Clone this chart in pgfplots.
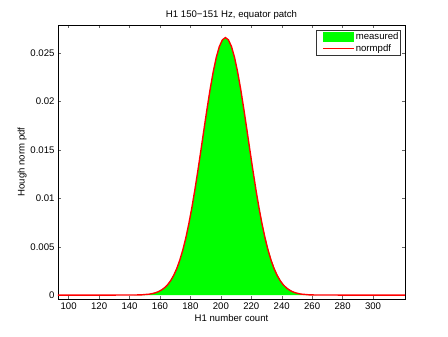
\documentclass[border=0pt]{standalone}
\usepackage{fontspec}
\setmainfont{Liberation Sans}
\usepackage{pgfplots}
\pgfplotsset{compat=1.18}
\begin{document}
\begin{tikzpicture}
\begin{axis}[
    scale only axis,
    width=347pt, height=274pt,
    xmin=93, xmax=321,
    ymin=-0.0004, ymax=0.0279,
    xtick={100,120,...,300},
    ytick={0,0.005,0.01,0.015,0.02,0.025},
    scaled y ticks=false,
    yticklabel style={/pgf/number format/fixed, /pgf/number format/precision=3},
    /pgf/number format/assume math mode=true,
    tick align=inside,
    major tick length=3pt,
    tick style={black!60, line width=0.4pt},
    axis line style={black, line width=0.5pt},
    font=\fontsize{9.6}{10}\selectfont,
    title={H1 150−151 Hz, equator patch},
    title style={yshift=-4pt},
    xlabel={H1 number count},
    ylabel={Hough norm pdf},
    xlabel style={yshift=2pt},
    ylabel style={yshift=-3pt},
    legend style={at={(0.9876,0.982)}, anchor=north east, draw=black!80,
        font=\fontsize{9.6}{10}\selectfont, inner xsep=1pt, inner ysep=1.5pt, row sep=1.5pt,
        nodes={inner sep=1pt}},
    legend cell align=left,
]
\addplot[fill=green, draw=none,
    legend image code/.code={\path (0pt,0pt); \fill[green] (5pt,-5.3pt) rectangle (36pt,5.3pt);}] coordinates {
(143,0) (148,0.00003) (153,0.00010) (155,0.00016) (157,0.00024) (159,0.00036)
(161,0.00053) (163,0.00076) (165,0.00107) (167,0.00149) (169,0.00204)
(171,0.00273) (173,0.00360) (175,0.00466) (177,0.00592) (179,0.00740)
(181,0.00907) (183,0.01094) (185,0.01295) (187,0.01506) (189,0.01721)
(191,0.01931) (193,0.02130) (195,0.02307) (197,0.02455) (199,0.02567)
(201,0.02636) (203,0.02660) (205,0.02636) (207,0.02567) (209,0.02455)
(211,0.02307) (213,0.02130) (215,0.01931) (217,0.01721) (219,0.01506)
(221,0.01295) (223,0.01094) (225,0.00917) (227,0.00755) (229,0.00610)
(231,0.00484) (233,0.00376) (235,0.00286) (237,0.00214) (239,0.00157)
(241,0.00113) (243,0.00080) (245,0.00056) (247,0.00038) (249,0.00025)
(251,0.00016) (253,0.00010) (258,0.00003) (263,0)
} \closedcycle;
\addlegendentry{measured}
\addplot[red, line width=1.4pt,
    legend image code/.code={\path (0pt,0pt); \draw[red, line width=1pt] (5pt,0pt) -- (36pt,0pt);}] coordinates {
(93,0) (143,0.00001) (148,0.00003) (153,0.00010) (155,0.00016) (157,0.00024) (159,0.00036)
(161,0.00053) (163,0.00076) (165,0.00107) (167,0.00149) (169,0.00204)
(171,0.00273) (173,0.00360) (175,0.00466) (177,0.00592) (179,0.00740)
(181,0.00907) (183,0.01094) (185,0.01295) (187,0.01506) (189,0.01721)
(191,0.01931) (193,0.02130) (195,0.02307) (197,0.02455) (199,0.02567)
(201,0.02636) (203,0.02660) (205,0.02636) (207,0.02567) (209,0.02455)
(211,0.02307) (213,0.02130) (215,0.01931) (217,0.01721) (219,0.01506)
(221,0.01295) (223,0.01094) (225,0.00907) (227,0.00740) (229,0.00592)
(231,0.00466) (233,0.00360) (235,0.00273) (237,0.00204) (239,0.00149)
(241,0.00107) (243,0.00076) (245,0.00053) (247,0.00036) (249,0.00024)
(251,0.00016) (253,0.00010) (258,0.00003) (263,0.00001) (321,0)
};
\addlegendentry{normpdf}
\end{axis}
\path ([xshift=-58pt,yshift=-38pt]current axis.south west) rectangle ([xshift=43pt,yshift=25pt]current axis.north east);
\end{tikzpicture}
\end{document}
